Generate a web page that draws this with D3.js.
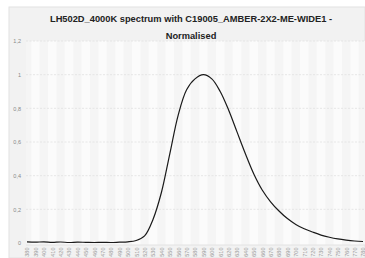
<!DOCTYPE html>
<html><head><meta charset="utf-8">
<script src="https://cdn.jsdelivr.net/npm/d3@7"></script>
<style>body{margin:0;background:#fff;}svg{display:block;}</style>
</head><body>
<svg id="c" width="365" height="258"></svg>
<script>
const titleLines = ["LH502D_4000K spectrum with C19005_AMBER-2X2-ME-WIDE1 -", "Normalised"];
const wavelengths = d3.range(380, 781, 10);
const values = [0.007,0.005,0.007,0.004,0.006,0.003,0.005,0.004,0.003,0.004,0.003,0.005,0.007,
  0.015,0.042,0.14,0.3,0.53,0.76,0.91,0.975,1.0,0.975,0.9,0.79,0.66,0.53,0.41,0.315,0.245,
  0.19,0.145,0.11,0.085,0.065,0.047,0.034,0.024,0.017,0.012,0.009];
const yTicks = [0,0.2,0.4,0.6,0.8,1,1.2];

const svg = d3.select("#c");
const W = 365, H = 258;
const m = {left:26, top:41, right:365, bottom:245};

svg.append("rect").attr("x",9).attr("y",7).attr("width",W-9).attr("height",H-7)
  .attr("fill","#f2f2f2").attr("stroke","#e2e2e2");

const x = d3.scaleLinear().domain([380,780]).range([27,363]);
const y = d3.scaleLinear().domain([0,1.2]).range([243,41]);

svg.append("rect").attr("x",m.left).attr("y",m.top).attr("width",m.right-m.left).attr("height",m.bottom-m.top).attr("fill","#fbfbfb");
const bw = x(390)-x(380);
svg.append("g").selectAll("rect").data(wavelengths.filter((d,i)=>i%2===0)).join("rect")
  .attr("x",d=>Math.max(m.left, x(d)-bw/2)).attr("y",m.top)
  .attr("width",d=>Math.min(bw, x(d)+bw/2-m.left)).attr("height",m.bottom-m.top).attr("fill","#f5f5f5");

svg.append("g").selectAll("line").data(yTicks.filter(d=>d>0)).join("line")
  .attr("x1",m.left).attr("x2",m.right).attr("y1",d=>y(d)).attr("y2",d=>y(d))
  .attr("stroke","#e0e0e0").attr("stroke-width",0.7).attr("stroke-dasharray","2,1.5");
svg.append("line").attr("x1",m.left).attr("x2",m.right).attr("y1",m.bottom).attr("y2",m.bottom).attr("stroke","#e2e2e2");

const yAxis = d3.axisLeft(y).tickValues(yTicks).tickSize(0).tickPadding(5)
  .tickFormat(d=>String(d).replace(".",","));
const gy = svg.append("g").attr("transform",`translate(${m.left},0)`).call(yAxis);
gy.select(".domain").remove();
gy.selectAll("text").attr("font-family","Liberation Sans, Arial, sans-serif").attr("font-size",5.5).attr("fill","#888");

const xAxis = d3.axisBottom(x).tickValues(wavelengths).tickSize(0).tickFormat(d=>d);
const gx = svg.append("g").attr("transform",`translate(0,${m.bottom})`).call(xAxis);
gx.select(".domain").remove();
gx.selectAll("text").attr("font-family","Liberation Sans, Arial, sans-serif").attr("font-size",5.5).attr("fill","#999")
  .attr("transform","rotate(-90)").attr("text-anchor","end").attr("x",-2.5).attr("y",0).attr("dy","0.35em");

const line = d3.line().x((d,i)=>x(wavelengths[i])).y(d=>y(d)).curve(d3.curveCatmullRom);
svg.append("path").datum(values).attr("d",line).attr("fill","none").attr("stroke","#1a1a1a").attr("stroke-width",1.2);

svg.append("g").selectAll("text").data(titleLines).join("text")
  .attr("x",191).attr("y",(d,i)=>21.5+i*17).attr("text-anchor","middle")
  .attr("font-family","Liberation Sans, Arial, sans-serif").attr("font-weight","bold").attr("font-size",9.3).attr("fill","#222")
  .text(d=>d);
</script>
</body></html>
